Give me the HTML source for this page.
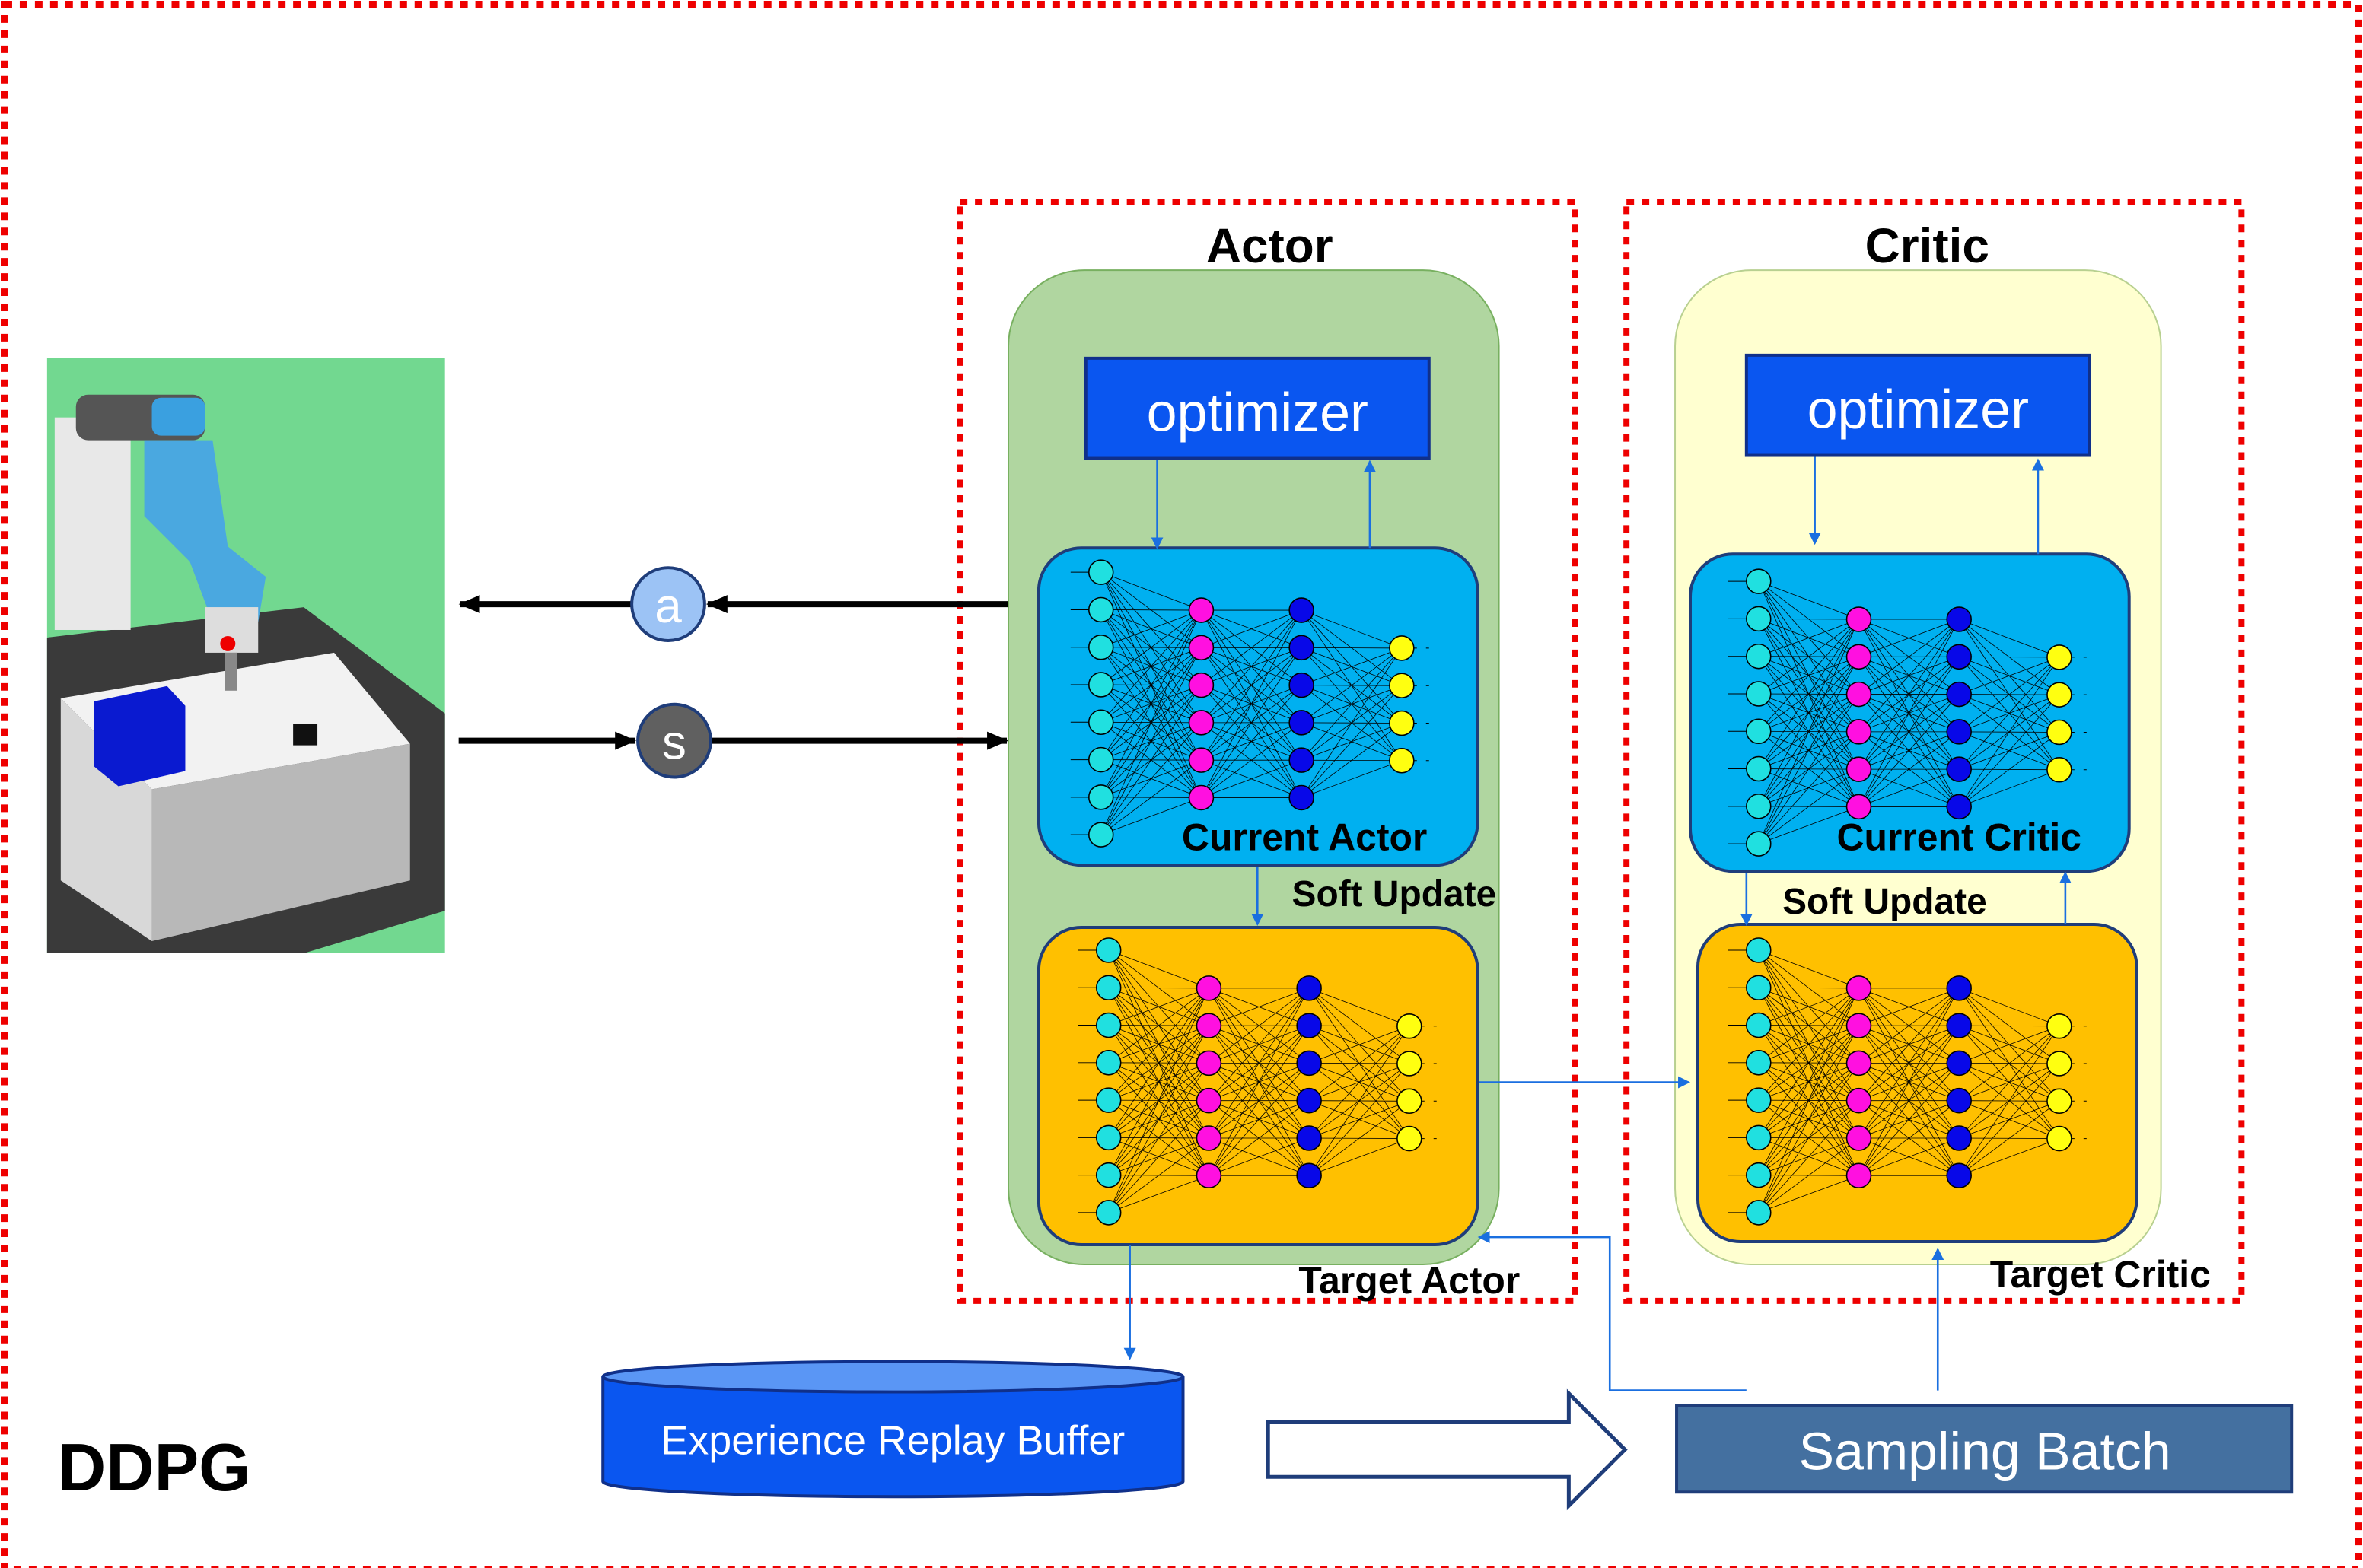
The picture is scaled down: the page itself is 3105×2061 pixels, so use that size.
<!DOCTYPE html>
<html><head><meta charset="utf-8"><style>
html,body{margin:0;padding:0;background:#fff;}
svg{display:block;}
text{font-family:"Liberation Sans","DejaVu Sans",sans-serif;}
</style></head><body>
<svg id="s" width="3105" height="2061" viewBox="0 0 1556 1033" preserveAspectRatio="none" xmlns="http://www.w3.org/2000/svg">
<defs>
<marker id="ab" markerWidth="8" markerHeight="8" refX="7" refY="4" orient="auto" markerUnits="userSpaceOnUse"><path d="M0,0 L8,4 L0,8z" fill="#1a6fe0"/></marker>
<marker id="ak" markerWidth="14" markerHeight="12" refX="13" refY="6" orient="auto" markerUnits="userSpaceOnUse"><path d="M0,0 L14,6 L0,12z" fill="#000"/></marker>
</defs>
<rect x="3" y="3" width="1550" height="1031" fill="none" stroke="#e00" stroke-width="5" stroke-dasharray="5,5"/>
<!-- robot scene -->
<rect x="31" y="236" width="262" height="392" fill="#72d890"/>
<polygon points="31,420 200,400 293,470 293,600 200,628 31,628" fill="#3a3a3a"/>
<polygon points="40,460 220,430 270,490 100,520" fill="#f2f2f2"/>
<polygon points="40,460 100,520 100,620 40,580" fill="#d8d8d8"/>
<polygon points="100,520 270,490 270,580 100,620" fill="#b8b8b8"/>
<polygon points="62,462 110,452 122,465 122,508 78,518 62,505" fill="#0a1ad0"/>
<rect x="193" y="477" width="16" height="14" fill="#111"/>
<rect x="36" y="275" width="50" height="140" fill="#e8e8e8"/>
<rect x="50" y="260" width="85" height="30" rx="8" fill="#555"/>
<rect x="100" y="262" width="35" height="25" rx="6" fill="#3aa0e0"/>
<path d="M95,290 L140,290 L150,360 L175,380 L170,410 L140,410 L125,370 L95,340z" fill="#4aa8e0"/>
<rect x="135" y="400" width="35" height="30" fill="#ddd"/>
<circle cx="150" cy="424" r="5" fill="#e00"/>
<rect x="148" y="430" width="8" height="25" fill="#888"/>
<!-- Actor group -->
<rect x="632" y="133" width="405" height="724" fill="none" stroke="#e00" stroke-width="4" stroke-dasharray="5,5"/>
<text x="836" y="173" font-size="32" font-weight="bold" text-anchor="middle">Actor</text>
<rect x="664" y="178" width="323" height="655" rx="50" fill="#b0d6a0" stroke="#78b060"/>
<rect x="715" y="236" width="226" height="66" fill="#0a56f0" stroke="#10308a" stroke-width="2"/>
<text x="828" y="284" font-size="36" fill="#fff" text-anchor="middle">optimizer</text>
<!-- Critic group -->
<rect x="1071" y="133" width="405" height="724" fill="none" stroke="#e00" stroke-width="4" stroke-dasharray="5,5"/>
<text x="1269" y="173" font-size="32" font-weight="bold" text-anchor="middle">Critic</text>
<rect x="1103" y="178" width="320" height="655" rx="50" fill="#ffffd0" stroke="#b8d090"/>
<rect x="1150" y="234" width="226" height="66" fill="#0a56f0" stroke="#10308a" stroke-width="2"/>
<text x="1263" y="282" font-size="36" fill="#fff" text-anchor="middle">optimizer</text>
<g id="nets"></g>
<text x="859" y="560" font-size="25" font-weight="bold" text-anchor="middle">Current Actor</text>
<text x="918" y="597" font-size="24" font-weight="bold" text-anchor="middle">Soft Update</text>
<text x="928" y="852" font-size="25" font-weight="bold" text-anchor="middle">Target Actor</text>
<text x="1290" y="560" font-size="25" font-weight="bold" text-anchor="middle">Current Critic</text>
<text x="1241" y="602" font-size="24" font-weight="bold" text-anchor="middle">Soft Update</text>
<text x="1383" y="848" font-size="25" font-weight="bold" text-anchor="middle">Target Critic</text>
<!-- blue connectors -->
<g stroke="#1a6fe0" stroke-width="1.3" fill="none">
<line x1="762" y1="303" x2="762" y2="361" marker-end="url(#ab)"/>
<line x1="902" y1="361" x2="902" y2="304" marker-end="url(#ab)"/>
<line x1="1195" y1="301" x2="1195" y2="358" marker-end="url(#ab)"/>
<line x1="1342" y1="365" x2="1342" y2="303" marker-end="url(#ab)"/>
<line x1="828" y1="571" x2="828" y2="609" marker-end="url(#ab)"/>
<line x1="1150" y1="575" x2="1150" y2="609" marker-end="url(#ab)"/>
<line x1="1360" y1="609" x2="1360" y2="575" marker-end="url(#ab)"/>
<line x1="974" y1="713" x2="1112" y2="713" marker-end="url(#ab)"/>
<line x1="744" y1="820" x2="744" y2="895" marker-end="url(#ab)"/>
<polyline points="1150,916 1060,916 1060,815 974,815" marker-end="url(#ab)"/>
<line x1="1276" y1="916" x2="1276" y2="823" marker-end="url(#ab)"/>
</g>
<!-- black arrows -->
<g stroke="#000" stroke-width="4">
<line x1="664" y1="398" x2="466" y2="398" marker-end="url(#ak)"/>
<line x1="416" y1="398" x2="303" y2="398" marker-end="url(#ak)"/>
<line x1="302" y1="488" x2="418" y2="488" marker-end="url(#ak)"/>
<line x1="469" y1="488" x2="663" y2="488" marker-end="url(#ak)"/>
</g>
<circle cx="440" cy="398" r="24" fill="#9cc3f5" stroke="#1f3d7a" stroke-width="2"/>
<text x="440" y="410" font-size="32" fill="#fff" text-anchor="middle">a</text>
<circle cx="444" cy="488" r="24" fill="#606060" stroke="#1f3d7a" stroke-width="2"/>
<text x="444" y="500" font-size="32" fill="#fff" text-anchor="middle">s</text>
<!-- replay buffer -->
<path d="M397,907 L397,976 A191,10 0 0 0 779,976 L779,907" fill="#0a56f0" stroke="#10308a" stroke-width="2"/>
<ellipse cx="588" cy="907" rx="191" ry="10" fill="#5a96f5" stroke="#10308a" stroke-width="2"/>
<text x="588" y="958" font-size="27" fill="#fff" text-anchor="middle">Experience Replay Buffer</text>
<!-- big arrow -->
<polygon points="835,937 1033,937 1033,918 1070,955 1033,992 1033,973 835,973" fill="#fff" stroke="#1f3d7a" stroke-width="2.5"/>
<rect x="1104" y="926" width="405" height="57" fill="#4470a0" stroke="#1f3d7a" stroke-width="2"/>
<text x="1307" y="968" font-size="35" fill="#fff" text-anchor="middle">Sampling Batch</text>
<text x="38" y="982" font-size="44" font-weight="bold">DDPG</text>
</svg>
<script>
var g=document.getElementById('nets'),NS="http://www.w3.org/2000/svg",h='';
function net(bx,by,bw,bh,fill,cx,cy){
 h+='<rect x="'+bx+'" y="'+by+'" width="'+bw+'" height="'+bh+'" rx="28" fill="'+fill+'" stroke="#1f3d7a" stroke-width="2"/>';
 var L=[[cx,cy,8,'#20e0e0'],[cx+66,cy+25,6,'#ff10e0'],[cx+132,cy+25,6,'#0808e8'],[cx+198,cy+50,4,'#ffff10']];
 var s=24.7;
 for(var l=0;l<3;l++){var a=L[l],b=L[l+1];for(var i=0;i<a[2];i++)for(var j=0;j<b[2];j++)h+='<line x1="'+a[0]+'" y1="'+(a[1]+i*s)+'" x2="'+b[0]+'" y2="'+(b[1]+j*s)+'" stroke="#000" stroke-width="0.4"/>';}
 for(var i=0;i<8;i++)h+='<line x1="'+(cx-20)+'" y1="'+(cy+i*s)+'" x2="'+cx+'" y2="'+(cy+i*s)+'" stroke="#000" stroke-width="0.5"/>';
 for(var i=0;i<4;i++)h+='<line x1="'+(cx+198)+'" y1="'+(cy+50+i*s)+'" x2="'+(cx+222)+'" y2="'+(cy+50+i*s)+'" stroke="#000" stroke-width="0.5" stroke-dasharray="2,6"/>';
 L.forEach(function(a){for(var i=0;i<a[2];i++)h+='<circle cx="'+a[0]+'" cy="'+(a[1]+i*s)+'" r="8" fill="'+a[3]+'" stroke="#000" stroke-width="0.8"/>';});
}
net(684,361,289,209,'#00b0f0',725,377);
net(684,611,289,209,'#ffc000',730,626);
net(1113,365,289,209,'#00b0f0',1158,383);
net(1118,609,289,209,'#ffc000',1158,626);
g.innerHTML=h;
</script>
</body></html>
